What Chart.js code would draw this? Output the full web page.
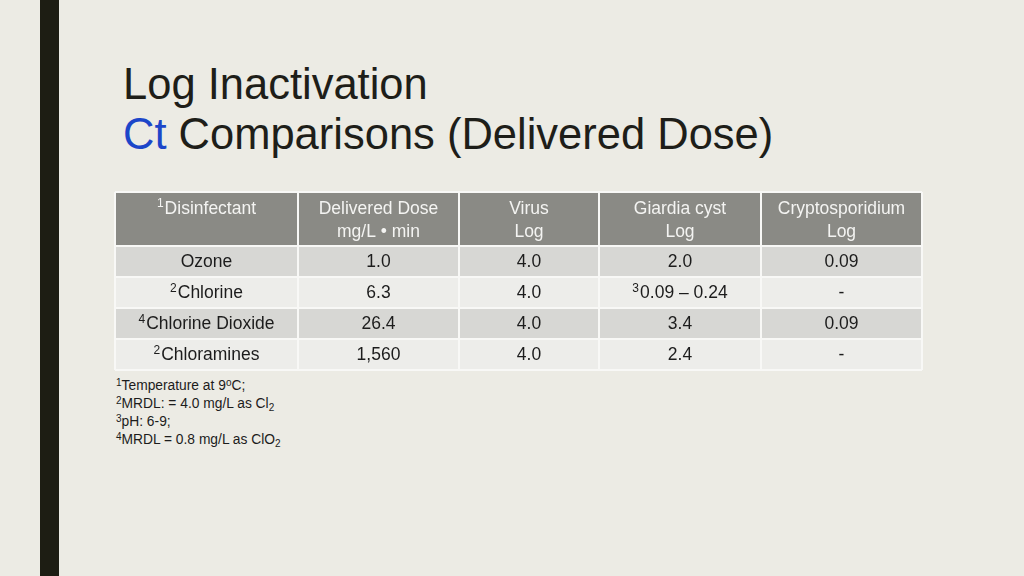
<!DOCTYPE html>
<html>
<head>
<meta charset="utf-8">
<script src="https://cdn.jsdelivr.net/npm/chart.js@4"></script>
<style>
  html, body { margin: 0; padding: 0; }
  body { width: 1024px; height: 576px; background: #ecebe4; position: relative; overflow: hidden;
         font-family: "Liberation Sans", Arial, sans-serif; }
  #bar { position: absolute; left: 40px; top: 0; width: 19px; height: 576px; background: #1d1d13; }
  #title { position: absolute; left: 123px; top: 59px; font-size: 43.5px; line-height: 50px; color: #1e1e19; }
  #title .ct { color: #1c46c9; }
  #tableWrap { position: absolute; left: 114px; top: 191px; width: 809px; height: 181px; }
  #notes { position: absolute; left: 116px; top: 377px; font-size: 13.8px; line-height: 18px; color: #1c1c1c; }
  #notes sup { font-size: 10px; vertical-align: 4px; line-height: 0; }
  #notes sub { font-size: 10px; vertical-align: -3px; line-height: 0; }
</style>
</head>
<body>
<div id="bar"></div>
<div id="title">Log Inactivation<br><span class="ct">Ct</span> Comparisons (Delivered Dose)</div>
<div id="tableWrap"><canvas id="canvas" width="809" height="181"></canvas></div>
<div id="notes">
  <sup>1</sup>Temperature at 9<sup>o</sup>C;<br>
  <sup>2</sup>MRDL: = 4.0 mg/L as Cl<sub>2</sub><br>
  <sup>3</sup>pH: 6-9;<br>
  <sup>4</sup>MRDL = 0.8 mg/L as ClO<sub>2</sub>
</div>
<script>
// table content
const headers = [['Disinfectant'], ['Delivered Dose', 'mg/L \u2022 min'], ['Virus', 'Log'], ['Giardia cyst', 'Log'], ['Cryptosporidium', 'Log']];
const headerNotes = ['1', '', '', '', ''];
const disinfectants = ['Ozone', 'Chlorine', 'Chlorine Dioxide', 'Chloramines'];
const disinfectantNotes = ['', '2', '4', '2'];
const deliveredDose = ['1.0', '6.3', '26.4', '1,560'];
const virusLog = ['4.0', '4.0', '4.0', '4.0'];
const giardiaLog = ['2.0', '0.09 \u2013 0.24', '3.4', '2.4'];
const giardiaNotes = ['', '3', '', ''];
const cryptoLog = ['0.09', '-', '0.09', '-'];

// table grid (in canvas units)
const colEdges = [1, 184, 345, 485, 647, 808];
const rowEdges = [1, 55, 86, 117, 148, 179];
const rowColors = ['#8a8a85', '#d7d7d4', '#ededea', '#d7d7d4', '#ededea'];

// one point per cell, placed at the cell centre
let cells = [];
headers.forEach((lines, c) => {
    cells.push({x: (colEdges[c] + colEdges[c + 1]) / 2, y: rowEdges[0], lines: lines, note: headerNotes[c], head: true});
});
const columns = [disinfectants, deliveredDose, virusLog, giardiaLog, cryptoLog];
const columnNotes = [disinfectantNotes, null, null, giardiaNotes, null];
for (let r = 0; r < disinfectants.length; r++) {
    columns.forEach((col, c) => {
        cells.push({
            x: (colEdges[c] + colEdges[c + 1]) / 2,
            y: (rowEdges[r + 1] + rowEdges[r + 2]) / 2,
            lines: [col[r]],
            note: columnNotes[c] ? columnNotes[c][r] : '',
            head: false
        });
    });
}

const FONT = '"Liberation Sans", Arial, sans-serif';

const tablePlugin = {
    id: 'table',
    beforeDatasetsDraw(chart) {
        const ctx = chart.ctx;
        const x = chart.scales.x, y = chart.scales.y;
        ctx.save();
        // cell backgrounds
        for (let r = 0; r < rowEdges.length - 1; r++) {
            ctx.fillStyle = rowColors[r];
            const top = y.getPixelForValue(rowEdges[r]);
            const bottom = y.getPixelForValue(rowEdges[r + 1]);
            ctx.fillRect(x.getPixelForValue(colEdges[0]), top, x.getPixelForValue(colEdges[5]) - x.getPixelForValue(colEdges[0]), bottom - top);
        }
        // white grid lines
        ctx.strokeStyle = '#f8f8f6';
        ctx.lineWidth = 2;
        rowEdges.forEach(e => {
            const p = y.getPixelForValue(e);
            ctx.beginPath();
            ctx.moveTo(x.getPixelForValue(colEdges[0]), p);
            ctx.lineTo(x.getPixelForValue(colEdges[5]), p);
            ctx.stroke();
        });
        colEdges.forEach(e => {
            const p = x.getPixelForValue(e);
            ctx.beginPath();
            ctx.moveTo(p, y.getPixelForValue(rowEdges[0]));
            ctx.lineTo(p, y.getPixelForValue(rowEdges[5]));
            ctx.stroke();
        });
        ctx.restore();
    },
    afterDatasetsDraw(chart) {
        const ctx = chart.ctx;
        const meta = chart.getDatasetMeta(0);
        ctx.save();
        ctx.textBaseline = 'middle';
        meta.data.forEach((pt, i) => {
            const cell = cells[i];
            ctx.fillStyle = cell.head ? '#f4f4f2' : '#1c1c1c';
            cell.lines.forEach((line, k) => {
                const cy = cell.head ? pt.y + 17 + k * 23 : pt.y + 1;
                ctx.font = '17.5px ' + FONT;
                const w = ctx.measureText(line).width;
                let nw = 0;
                if (k === 0 && cell.note) {
                    ctx.font = '12px ' + FONT;
                    nw = ctx.measureText(cell.note).width + 1;
                }
                const left = pt.x - (w + nw) / 2;
                if (nw) {
                    ctx.textAlign = 'left';
                    ctx.fillText(cell.note, left, cy - 5);
                }
                ctx.font = '17.5px ' + FONT;
                ctx.textAlign = 'left';
                ctx.fillText(line, left + nw, cy);
            });
        });
        ctx.restore();
    }
};

var ctx = document.getElementById('canvas').getContext('2d');
let myChart = new Chart(ctx, {
    type: 'scatter',
    data: {
        datasets: [{
            data: cells.map(c => ({x: c.x, y: c.y})),
            pointRadius: 0,
            pointHoverRadius: 0
        }]
    },
    options: {
        responsive: false,
        animation: false,
        layout: { padding: 0 },
        plugins: { legend: { display: false }, tooltip: { enabled: false } },
        scales: {
            x: { type: 'linear', min: 0, max: 809, display: false },
            y: { type: 'linear', min: 0, max: 181, reverse: true, display: false }
        }
    },
    plugins: [tablePlugin]
});
</script>
</body>
</html>
